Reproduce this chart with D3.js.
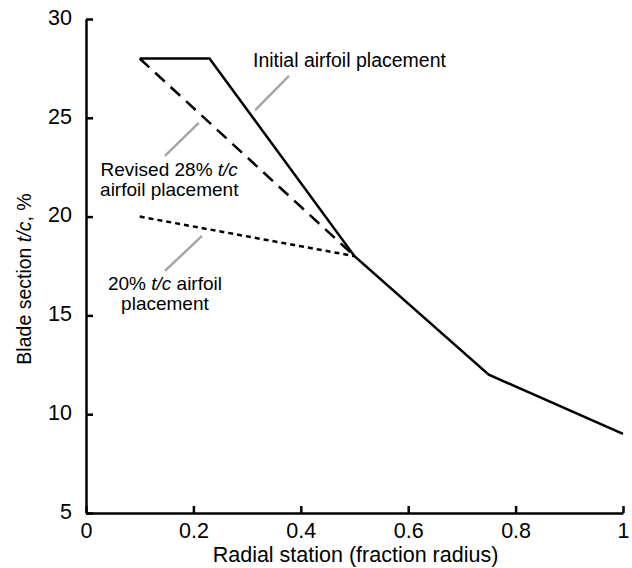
<!DOCTYPE html>
<html>
<head>
<meta charset="utf-8">
<script src="https://cdn.jsdelivr.net/npm/d3@7"></script>
<style>
  body { margin: 0; background: #fff; }
  svg { display: block; font-family: "Liberation Sans", Arial, Helvetica, sans-serif; }
</style>
</head>
<body>
<div id="chart"></div>
<script>
// radial station vs blade section t/c (%)
const initialX = [0.1, 0.23, 0.5, 0.75, 1.0];
const initialY = [28, 28, 18, 12, 9];
const revisedX = [0.1, 0.5];
const revisedY = [28, 18];
const twentyX = [0.1, 0.5];
const twentyY = [20, 18];

const xTicks = [0, 0.2, 0.4, 0.6, 0.8, 1];
const xTickLabels = ["0", "0.2", "0.4", "0.6", "0.8", "1"];
const yTicks = [5, 10, 15, 20, 25, 30];

// leader lines, in data units: [x1, y1, x2, y2]
const leaders = [
  [0.378, 27.12, 0.315, 25.39],
  [0.210, 24.74, 0.147, 23.07],
  [0.216, 19.02, 0.147, 17.25]
];

const width = 632, height = 568;
const margin = { top: 19, right: 9, bottom: 55, left: 86 };

const svg = d3.select("#chart").append("svg")
  .attr("width", width)
  .attr("height", height);

const x = d3.scaleLinear().domain([0, 1]).range([margin.left, width - margin.right]);
const y = d3.scaleLinear().domain([5, 30]).range([height - margin.bottom, margin.top]);

// axes, ticks point inward
const xAxis = svg.append("g")
  .attr("transform", `translate(0,${y(5)})`)
  .call(d3.axisBottom(x).tickValues(xTicks).tickFormat((d, i) => xTickLabels[i])
    .tickSizeInner(-7).tickSizeOuter(0).tickPadding(14));
const yAxis = svg.append("g")
  .attr("transform", `translate(${x(0)},0)`)
  .call(d3.axisLeft(y).tickValues(yTicks).tickSizeInner(-7).tickSizeOuter(0).tickPadding(14));

[xAxis, yAxis].forEach(g => {
  g.select(".domain").attr("stroke", "#000").attr("stroke-width", 2.5);
  g.selectAll(".tick line").attr("stroke", "#000").attr("stroke-width", 2.5);
  g.selectAll(".tick text").attr("fill", "#000").style("font-size", "21.5px")
    .style("font-family", "'Liberation Sans', Arial, sans-serif");
});
yAxis.selectAll(".tick text").attr("dy", "0.25em");
xAxis.selectAll(".tick text").attr("dy", "0.5em");

svg.append("text")
  .attr("x", (x(0) + x(1)) / 2 + 1)
  .attr("y", height - 6)
  .attr("text-anchor", "middle")
  .style("font-size", "21.5px")
  .text("Radial station (fraction radius)");

const yTitle = svg.append("text")
  .attr("transform", `translate(31,279) rotate(-90)`)
  .attr("text-anchor", "middle")
  .style("font-size", "19.5px");
yTitle.append("tspan").text("Blade section ");
yTitle.append("tspan").style("font-style", "italic").text("t/c");
yTitle.append("tspan").text(", %");

const line = d3.line().x(d => x(d[0])).y(d => y(d[1]));
const zip = (a, b) => a.map((v, i) => [v, b[i]]);

svg.append("path")
  .datum(zip(twentyX, twentyY))
  .attr("d", line)
  .attr("fill", "none").attr("stroke", "#000").attr("stroke-width", 2.5)
  .attr("stroke-dasharray", "5,4");

svg.append("path")
  .datum(zip(revisedX, revisedY))
  .attr("d", line)
  .attr("fill", "none").attr("stroke", "#000").attr("stroke-width", 2.5)
  .attr("stroke-dasharray", "13,8");

svg.append("path")
  .datum(zip(initialX, initialY))
  .attr("d", line)
  .attr("fill", "none").attr("stroke", "#000").attr("stroke-width", 2.5)
  .attr("stroke-linejoin", "miter");

svg.selectAll(".leader")
  .data(leaders)
  .join("line")
  .attr("class", "leader")
  .attr("x1", d => x(d[0])).attr("y1", d => y(d[1]))
  .attr("x2", d => x(d[2])).attr("y2", d => y(d[3]))
  .attr("stroke", "#a6a6a6").attr("stroke-width", 2.5);

// annotations, one text per line
const note = svg.append("g").style("font-size", "19px");

note.append("text")
  .attr("x", x(0.311)).attr("y", y(27.57))
  .style("font-size", "19.5px")
  .text("Initial airfoil placement");

const r1 = note.append("text")
  .attr("x", x(0.155)).attr("y", y(22.0) - 1)
  .attr("text-anchor", "middle");
r1.append("tspan").text("Revised 28% ");
r1.append("tspan").style("font-style", "italic").text("t/c");
note.append("text")
  .attr("x", x(0.155)).attr("y", y(22.0) + 19)
  .attr("text-anchor", "middle")
  .text("airfoil placement");

const t1 = note.append("text")
  .attr("x", x(0.147)).attr("y", y(16.29))
  .attr("text-anchor", "middle");
t1.append("tspan").text("20% ");
t1.append("tspan").style("font-style", "italic").text("t/c");
t1.append("tspan").text(" airfoil");
note.append("text")
  .attr("x", x(0.147)).attr("y", y(16.29) + 20)
  .attr("text-anchor", "middle")
  .text("placement");
</script>
</body>
</html>
